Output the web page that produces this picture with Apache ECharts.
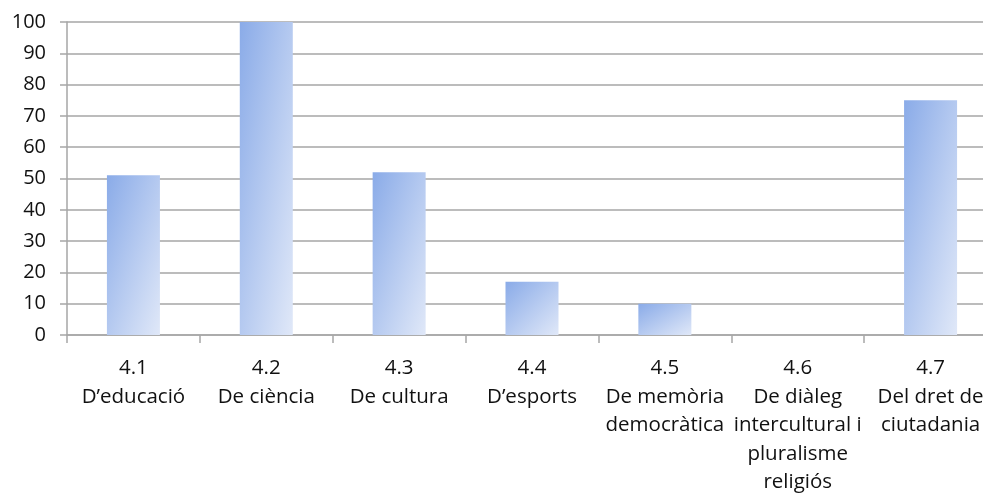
<!DOCTYPE html>
<html>
<head>
<meta charset="utf-8">
<script src="https://cdn.jsdelivr.net/npm/echarts@6/dist/echarts.min.js"></script>
<style>
  html, body { margin: 0; padding: 0; background: #fff; }
  #chart { width: 983px; height: 493px; }
</style>
</head>
<body>
<div id="chart"></div>
<script>
const categories = [
  "4.1\nD’educació",
  "4.2\nDe ciència",
  "4.3\nDe cultura",
  "4.4\nD’esports",
  "4.5\nDe memòria\ndemocràtica",
  "4.6\nDe diàleg\nintercultural i\npluralisme\nreligiós",
  "4.7\nDel dret de\nciutadania"
]
const values = [51, 100, 52, 17, 10, 0, 75]
const yTicks = { min: 0, max: 100, interval: 10 }

const chart = echarts.init(document.getElementById("chart"))

const gray = "#a6a6a6"
const textColor = "#111"
const font = "'Open Sans', sans-serif"
const gridHeight = 313
const barPx = 53

// diagonal gradient stretched to the bar shape (top-left dark, bottom-right light)
function barColor(v) {
  const h = Math.max(1, v / yTicks.max * gridHeight)
  const w = barPx
  const s = h * h + w * w
  return new echarts.graphic.LinearGradient(0, 0, 2 * h * h / s, 2 * w * w / s, [
    { offset: 0, color: "#8aabe8" },
    { offset: 1, color: "#e0e8f8" }
  ])
}

chart.setOption({
  animation: false,
  grid: {
    left: 67,
    top: 22,
    width: 930,
    height: gridHeight,
    outerBoundsMode: "none"
  },
  xAxis: {
    type: "category",
    data: categories,
    axisLine: { show: true, lineStyle: { color: gray, width: 1.5 } },
    axisTick: { show: true, length: 8, lineStyle: { color: gray, width: 1.5 } },
    axisLabel: {
      interval: 0,
      margin: 19,
      color: textColor,
      fontFamily: font,
      fontSize: 20.5,
      lineHeight: 28.5
    }
  },
  yAxis: {
    type: "value",
    min: yTicks.min,
    max: yTicks.max,
    interval: yTicks.interval,
    axisLine: { show: true, lineStyle: { color: gray, width: 1.5 } },
    axisTick: { show: true, length: 7, lineStyle: { color: gray, width: 1.5 } },
    splitLine: { show: true, lineStyle: { color: gray, width: 1.5 } },
    axisLabel: {
      margin: 21,
      color: textColor,
      fontFamily: font,
      fontSize: 20
    }
  },
  series: [
    {
      type: "bar",
      data: values.map(v => ({ value: v, itemStyle: { color: barColor(v) } })),
      barWidth: barPx
    }
  ]
})
</script>
</body>
</html>
